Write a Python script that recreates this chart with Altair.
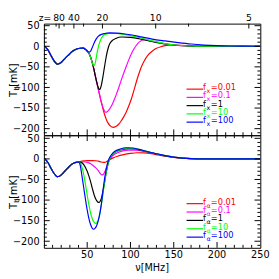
import altair as alt
import pandas as pd

# ---------------- values ----------------
SERIES = ["0.01", "0.1", "1", "10", "100"]
COLORS = ["#ff0000", "#ff00ff", "#000000", "#00ff00", "#0000ff"]

NU_LABELS = [50, 100, 150, 200, 250]
T_LABELS = [-200, -150, -100, -50, 0, 50]
Z_LABELS = [80, 40, 20, 10, 5]
Z_MINOR = [100, 60, 30, 15, 7.5]

# ---- top panel (f_x) ----
top_common_nu = [1, 5, 8, 11, 13.5, 15.5, 18, 21, 25, 29, 33, 38, 42, 45.5, 48]
top_common_T = [0, -10, -22, -33, -40, -43.5, -42, -37, -28, -20, -12, -6.5, -4.8, -4.5, -7.5]

top_red_nu = [50, 52, 54, 56, 58, 60, 62, 64, 66, 68, 70, 72, 74, 77, 80, 83, 86, 89, 92, 95,
              98, 101, 104, 107, 110, 113, 116, 120, 125, 130, 135, 140, 148, 158, 168, 178, 190, 210, 250]
top_red_T = [-11.5, -17, -27, -41, -58, -78, -97, -115, -133, -150, -165, -177, -186, -194, -197,
             -195, -190, -182, -172, -160, -145, -128, -107, -85, -65, -48, -35, -22, -12, -5, -1,
             1.5, 3.2, 2.5, 1.2, 0.4, 0.1, 0, 0]

top_mag_nu = [50, 52, 54, 56, 58, 60, 62, 64, 66, 68, 69.5, 71, 72.5, 74, 76, 78, 81, 84, 87, 90,
              94, 98, 102, 106, 110, 116, 125, 140, 155, 170, 185, 200, 250]
top_mag_T = [-11.5, -17, -27, -41, -58, -78, -97, -115, -133, -147, -155, -160, -160, -157, -152,
             -145, -131, -115, -97, -78, -55, -33, -14, 0, 10, 16, 12.5, 6, 2.2, 0.6, 0.1, 0, 0]

top_blk_nu = [50, 52, 54, 56, 58, 60, 62, 63, 64, 65, 66.5, 68, 70, 72, 74, 76, 79, 83, 90, 100,
              112, 125, 140, 155, 170, 185, 200, 250]
top_blk_T = [-11.5, -17, -27, -41, -58, -78, -95, -101.5, -105, -103.5, -93, -76, -50, -25, -6, 6,
             14, 19, 22.5, 21.5, 17.5, 11.5, 5.5, 2, 0.5, 0.1, 0, 0]

top_grn_nu = [50, 52, 54, 55.5, 57, 58, 59, 60, 61.5, 63, 65, 67.7, 71, 76, 84, 92, 100, 112,
              125, 140, 155, 170, 185, 200, 250]
top_grn_T = [-11.5, -17, -27, -38, -46, -47, -43, -33, -15, 0, 13, 24, 29, 31, 31, 29, 26, 20,
             13, 6.5, 2.5, 0.6, 0.1, 0, 0]

top_blu_nu = [50, 52, 53.5, 55.5, 58, 60.5, 63, 66, 70, 76, 84, 92, 100, 112, 125, 140, 155,
              170, 185, 200, 215, 230, 250]
top_blu_T = [-11, -14.5, -13, -5, 8, 18, 24.5, 28.5, 31, 32.5, 32, 30.5, 28, 23, 17.5, 13, 9,
             5.5, 3, 1.5, 0.6, 0.2, 0]

# ---- bottom panel (f_alpha) ----
bot_common_nu = [1, 5, 8, 11, 13.5, 15.5, 18, 21, 25, 29, 33, 37, 40]
bot_common_T = [0, -10, -22, -33, -40, -43, -42, -37, -28, -19, -12, -8.5, -7.5]

bot_red_nu = [44, 48, 52, 56, 60, 63, 66, 69, 71, 73, 76, 80, 85, 92, 100, 108, 116, 124, 132,
              140, 148, 156, 164, 172, 185, 250]
bot_red_T = [-5, -4.5, -4, -4, -4.5, -5.5, -7.5, -8.5, -8, -6, -2, 2.5, 6.5, 10.5, 13.5, 15,
             14.5, 12.5, 9.5, 6.5, 4, 2.2, 1, 0.4, 0, 0]

bot_mag_nu = [44, 48, 51, 54, 57, 60, 62.5, 65, 67, 68.5, 70, 72, 74, 76, 79, 84, 90, 98, 106,
              115, 125, 135, 145, 155, 165, 175, 190, 250]
bot_mag_T = [-7, -7.5, -9, -12, -16.5, -22, -28, -35, -39, -38, -33, -22, -10, -1, 7, 14, 19,
             21.5, 21, 18.5, 14.5, 10, 6, 3, 1.2, 0.4, 0, 0]

bot_blk_nu = [43, 46, 48, 50, 52, 54, 56, 58, 60, 62, 63.5, 65, 66.5, 68, 70, 72, 74, 76, 79,
              84, 90, 98, 105, 112, 120, 130, 140, 150, 160, 170, 185, 200, 250]
bot_blk_T = [-8.5, -14, -21, -30, -42, -56, -72, -87, -98, -104, -106, -103, -95, -80, -58, -33,
             -13, 0, 10, 18, 22.5, 25, 24, 21, 17, 12, 7.5, 4, 1.8, 0.6, 0.1, 0, 0]

bot_grn_nu = [42, 44, 46, 48, 50, 52, 54, 56, 58, 60, 62, 64, 66, 68, 70, 72, 74, 76, 79, 84,
              90, 97, 104, 112, 120, 130, 140, 150, 160, 170, 185, 200, 250]
bot_grn_T = [-10, -20, -38, -62, -88, -112, -132, -146, -154, -157, -152, -140, -116, -88, -58,
             -32, -12, 0, 10, 18.5, 23.5, 26, 25.5, 22, 17.5, 12.5, 8, 4.5, 2, 0.7, 0.1, 0, 0]

bot_blu_nu = [42, 44, 46, 48, 50, 52, 54, 56, 57.5, 59, 61, 63, 65, 67, 69, 71, 73, 75, 78, 82,
              88, 95, 102, 110, 120, 130, 140, 150, 160, 170, 185, 200, 250]
bot_blu_T = [-16, -42, -70, -98, -124, -145, -160, -169, -171, -169, -162, -148, -128, -100,
             -65, -36, -15, -1, 10, 18.5, 24, 27, 26.5, 23, 17.5, 12.5, 8, 4.5, 2, 0.7, 0.1, 0, 0]

# ---------------- layout / style ----------------
W = 223
H_TOP = 115
H_BOT = 116
Y_DOMAIN_TOP = [-216, 55]
Y_DOMAIN_BOT = [-216, 57.5]
X_DOMAIN = [0, 250]
FONT = "DejaVu Sans"

xs = alt.Scale(domain=X_DOMAIN, nice=False, zero=False)
cs = alt.Scale(domain=SERIES, range=COLORS)

y_minor = [v for v in range(-210, 51, 10) if v % 50 != 0]
y_major = T_LABELS
x_minor = [v for v in range(10, 250, 10) if v % 50 != 0]
x_major = [50, 100, 150, 200]


def z_to_nu(z):
    return 1420.4 / (1.0 + z)


def yticks(values, length, ys, side):
    df = pd.DataFrame({"v": values})
    x0, x1 = (0, length) if side == "left" else (W - length, W)
    return alt.Chart(df).mark_rule(color="black", strokeWidth=1).encode(
        y=alt.Y("v:Q", scale=ys, axis=None),
        x=alt.value(x0), x2=alt.value(x1))


def xticks(values, length, H, side):
    df = pd.DataFrame({"v": values})
    y0, y1 = (0, length) if side == "top" else (H - length, H)
    return alt.Chart(df).mark_rule(color="black", strokeWidth=1).encode(
        x=alt.X("v:Q", scale=xs, axis=None),
        y=alt.value(y0), y2=alt.value(y1))


def single_text(txt, x, y, size, angle=270, align="left", baseline="middle"):
    return alt.Chart(pd.DataFrame({"d": [0]})).mark_text(
        text=txt, angle=angle, align=align, baseline=baseline, fontSize=size,
        color="black", font=FONT).encode(x=alt.value(x), y=alt.value(y))


def panel(curves, H, ydom, sub, leg_range, bottom_axis, top_z):
    ys = alt.Scale(domain=ydom, nice=False, zero=False)
    layers = []
    yaxis = alt.Axis(values=T_LABELS, labelPadding=5, title=None, labelFlush=False,
                     labelOverlap=False)
    for i, (name, nu, T) in enumerate(curves):
        df = pd.DataFrame({"nu": nu, "T": T, "series": name})
        layers.append(alt.Chart(df).mark_line(strokeWidth=1.2, interpolate="monotone").encode(
            x=alt.X("nu:Q", scale=xs, axis=None),
            y=alt.Y("T:Q", scale=ys, axis=yaxis if i == 0 else None),
            color=alt.Color("series:N", scale=cs, legend=None)))

    # inward ticks
    layers += [yticks(y_minor, 3, ys, "left"), yticks(y_major, 6, ys, "left"),
               yticks(y_minor, 3, ys, "right"), yticks(y_major, 6, ys, "right"),
               xticks(x_minor, 3, H, "bottom"), xticks(x_major, 6, H, "bottom")]
    if top_z:
        layers += [xticks([z_to_nu(z) for z in Z_MINOR], 3, H, "top"),
                   xticks([z_to_nu(z) for z in Z_LABELS], 5, H, "top")]
        zdf = pd.DataFrame({"z": [str(z) for z in Z_LABELS],
                            "nu": [z_to_nu(z) for z in Z_LABELS]})
        layers.append(alt.Chart(zdf).mark_text(baseline="alphabetic", fontSize=9.5, font=FONT,
                                               color="black").encode(
            x=alt.X("nu:Q", scale=xs, axis=None), y=alt.value(-3), text="z:N"))
        layers.append(alt.Chart(zdf.iloc[:1]).mark_text(
            text="z=", baseline="alphabetic", align="right", fontSize=9.5, font=FONT,
            color="black", dx=-8).encode(x=alt.X("nu:Q", scale=xs, axis=None), y=alt.value(-3)))
    else:
        layers += [xticks(x_minor, 3, H, "top"), xticks(x_major, 6, H, "top")]

    if bottom_axis:
        xdf = pd.DataFrame({"v": NU_LABELS, "lab": [str(v) for v in NU_LABELS]})
        layers.append(alt.Chart(xdf).mark_text(baseline="top", fontSize=10, font=FONT,
                                               color="black").encode(
            x=alt.X("v:Q", scale=xs, axis=None), y=alt.value(H + 3), text="lab:N"))
        layers.append(single_text("ν[MHz]", W / 2.0, H + 16, 10, angle=0, align="center",
                                  baseline="top"))

    # legend inside the panel
    ldf = pd.DataFrame({"series": SERIES, "lab": ["=" + s for s in SERIES]})
    ly = alt.Y("series:N", axis=None,
               scale=alt.Scale(type="point", domain=SERIES, range=leg_range, padding=0))
    col = alt.Color("series:N", scale=cs, legend=None)
    layers.append(alt.Chart(ldf).mark_rule(strokeWidth=1.2).encode(
        x=alt.value(W - 76), x2=alt.value(W - 59), y=ly, color=col))
    layers.append(alt.Chart(ldf).mark_text(text="f", align="left", baseline="middle",
                                           fontSize=8.5, font=FONT, dy=-2).encode(
        x=alt.value(W - 59), y=ly, color=col))
    layers.append(alt.Chart(ldf).mark_text(text=sub, align="left", baseline="middle",
                                           fontSize=6.5, font=FONT, dy=2).encode(
        x=alt.value(W - 55.5), y=ly, color=col))
    layers.append(alt.Chart(ldf).mark_text(align="left", baseline="middle",
                                           fontSize=8.5, font=FONT, dy=-2).encode(
        x=alt.value(W - 51), y=ly, text="lab:N", color=col))

    # rotated y title  T_b [mK]
    c = H / 2.0
    layers += [single_text("T", -31, c + 18, 10),
               single_text("b", -28, c + 11.5, 7),
               single_text("[mK]", -31, c + 7.5, 10)]

    return alt.layer(*layers).properties(width=W, height=H).resolve_scale(y="independent")


top_curves = [
    ("0.01", top_common_nu + top_red_nu, top_common_T + top_red_T),
    ("0.1", top_common_nu + top_mag_nu, top_common_T + top_mag_T),
    ("1", top_common_nu + top_blk_nu, top_common_T + top_blk_T),
    ("10", top_common_nu + top_grn_nu, top_common_T + top_grn_T),
    ("100", top_common_nu + top_blu_nu, top_common_T + top_blu_T),
]
bot_curves = [
    ("0.01", bot_common_nu + bot_red_nu, bot_common_T + bot_red_T),
    ("0.1", bot_common_nu + bot_mag_nu, bot_common_T + bot_mag_T),
    ("1", bot_common_nu + bot_blk_nu, bot_common_T + bot_blk_T),
    ("10", bot_common_nu + bot_grn_nu, bot_common_T + bot_grn_T),
    ("100", bot_common_nu + bot_blu_nu, bot_common_T + bot_blu_T),
]

top = panel(top_curves, H_TOP, Y_DOMAIN_TOP, "x", [67.5, 101.5], False, True)
bot = panel(bot_curves, H_BOT, Y_DOMAIN_BOT, "α", [70.5, 105], True, False)

chart = alt.vconcat(top, bot, spacing=0, bounds="flush").properties(padding=0)
chart = (chart
         .configure(font=FONT)
         .configure_view(stroke="black", strokeWidth=1)
         .configure_axis(grid=False, ticks=False, domain=False, labelFont=FONT, labelFontSize=10,
                         labelColor="black", titleFont=FONT, titleFontSize=10,
                         titleFontWeight="normal", titleColor="black"))

chart.save("out.html", embed_options={"renderer": "svg", "actions": False})
